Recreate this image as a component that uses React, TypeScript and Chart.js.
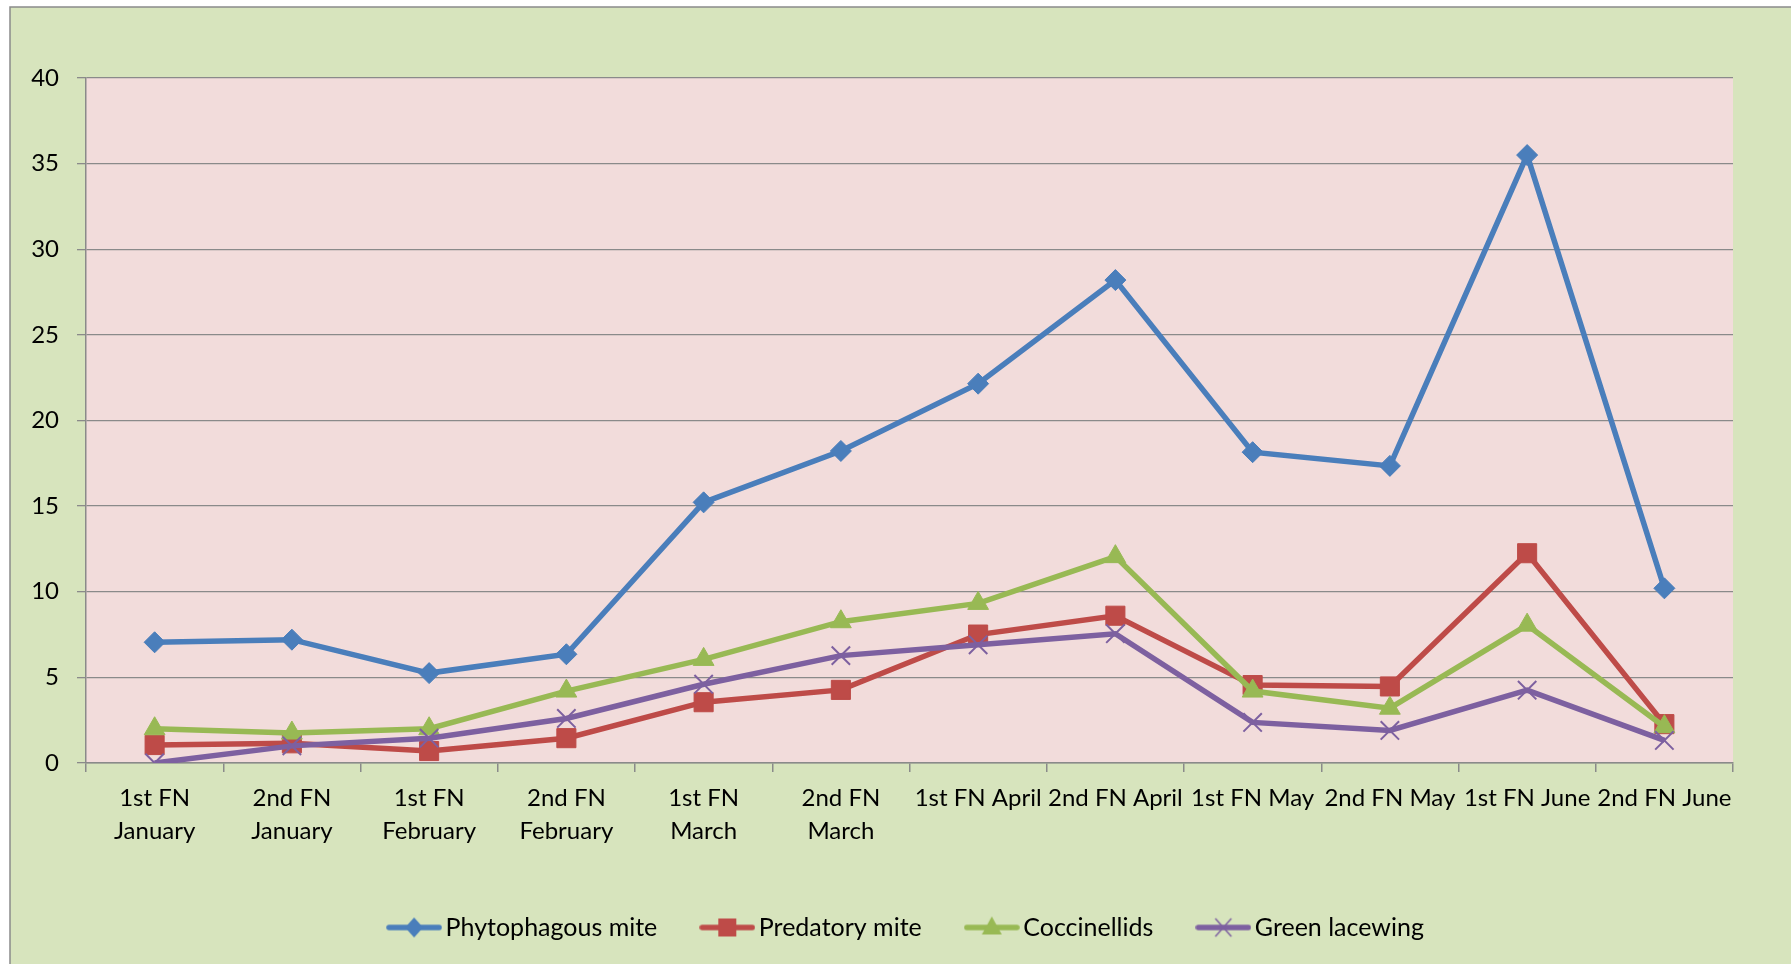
import { useEffect, useRef } from "react";
import { Chart, registerables } from "chart.js";

Chart.register(...registerables);

const categories: (string | string[])[] = [
  ["1st FN", "January"],
  ["2nd FN", "January"],
  ["1st FN", "February"],
  ["2nd FN", "February"],
  ["1st FN", "March"],
  ["2nd FN", "March"],
  "1st FN April",
  "2nd FN April",
  "1st FN May",
  "2nd FN May",
  "1st FN June",
  "2nd FN June",
];

const phytophagousMite = [7.05, 7.2, 5.25, 6.35, 15.22, 18.22, 22.15, 28.2, 18.15, 17.35, 35.5, 10.2];
const predatoryMite = [1.05, 1.15, 0.7, 1.45, 3.55, 4.27, 7.5, 8.6, 4.55, 4.47, 12.25, 2.27];
const coccinellids = [2.0, 1.75, 2.0, 4.2, 6.05, 8.25, 9.32, 12.05, 4.2, 3.2, 8.05, 2.12];
const greenLacewing = [0, 1.0, 1.45, 2.6, 4.6, 6.27, 6.9, 7.55, 2.37, 1.9, 4.25, 1.32];

const seriesNames = ["Phytophagous mite", "Predatory mite", "Coccinellids", "Green lacewing"];
const seriesColors = ["#4A7EBB", "#BE4B48", "#98B954", "#7D60A0"];
const seriesStyles = ["rectRot", "rect", "triangle", "crossRot"];
const seriesRadii = [10.5, 13.5, 12, 13];

const yMin = 0;
const yMax = 40;
const yStep = 5;

const FONT = "Lato, 'Open Sans', sans-serif";

function makeLegendSymbol(style: string, color: string): HTMLCanvasElement {
  const c = document.createElement("canvas");
  c.width = 56;
  c.height = 26;
  const ctx = c.getContext("2d")!;
  const cx = c.width / 2;
  const cy = c.height / 2;
  ctx.strokeStyle = color;
  ctx.fillStyle = color;
  ctx.lineCap = "round";
  ctx.lineWidth = 5.5;
  ctx.beginPath();
  ctx.moveTo(3, cy);
  ctx.lineTo(c.width - 3, cy);
  ctx.stroke();
  ctx.beginPath();
  if (style === "rectRot") {
    ctx.moveTo(cx - 9, cy);
    ctx.lineTo(cx, cy - 10);
    ctx.lineTo(cx + 9, cy);
    ctx.lineTo(cx, cy + 10);
    ctx.closePath();
    ctx.fill();
  } else if (style === "rect") {
    ctx.fillRect(cx - 9, cy - 9, 18, 18);
  } else if (style === "triangle") {
    ctx.moveTo(cx, cy - 11);
    ctx.lineTo(cx + 10, cy + 7);
    ctx.lineTo(cx - 10, cy + 7);
    ctx.closePath();
    ctx.fill();
  } else {
    ctx.lineWidth = 1.5;
    ctx.lineCap = "butt";
    ctx.moveTo(cx - 8, cy - 9);
    ctx.lineTo(cx + 8, cy + 9);
    ctx.moveTo(cx + 8, cy - 9);
    ctx.lineTo(cx - 8, cy + 9);
    ctx.stroke();
  }
  return c;
}

const backgroundPlugin = {
  id: "excelBackground",
  afterLayout(chart: any) {
    // centre the legend under the plot area, as in the original
    if (chart.legend) {
      chart.legend.left = chart.chartArea.left;
    }
  },
  beforeDraw(chart: any) {
    const { ctx, width, height, chartArea } = chart;
    ctx.save();
    ctx.fillStyle = "#ffffff";
    ctx.fillRect(0, 0, width, height);
    ctx.fillStyle = "#D7E4BD";
    ctx.fillRect(10, 7, width - 10, height - 7);
    ctx.strokeStyle = "#8A8A8A";
    ctx.lineWidth = 1.5;
    ctx.strokeRect(10, 7, width + 20, height + 20);
    ctx.fillStyle = "#F2DCDB";
    ctx.fillRect(
      chartArea.left,
      chartArea.top,
      chartArea.right - chartArea.left,
      chartArea.bottom - chartArea.top
    );
    ctx.restore();
  },
};

export default function App() {
  const canvasRef = useRef<HTMLCanvasElement | null>(null);

  useEffect(() => {
    document.body.style.margin = "0";
    document.body.style.overflow = "hidden";
    let chart: Chart | null = null;
    let cancelled = false;

    const build = () => {
      if (cancelled || !canvasRef.current) return;
      const symbols = seriesStyles.map((s, i) => makeLegendSymbol(s, seriesColors[i]));
      const values = [phytophagousMite, predatoryMite, coccinellids, greenLacewing];
      chart = new Chart(canvasRef.current, {
        type: "line",
        data: {
          labels: categories,
          datasets: values.map((d, i) => ({
            label: seriesNames[i],
            data: d,
            borderColor: seriesColors[i],
            backgroundColor: seriesColors[i],
            pointBackgroundColor: seriesColors[i],
            pointBorderColor: seriesColors[i],
            pointStyle: seriesStyles[i] as any,
            pointRadius: seriesRadii[i],
            pointBorderWidth: i === 3 ? 2 : 1,
            borderWidth: 5.5,
            tension: 0,
            fill: false,
            order: 3 - i,
          })),
        },
        options: {
          responsive: false,
          animation: false,
          events: [],
          layout: { padding: { left: 0, top: 78, right: 58, bottom: 14 } },
          plugins: {
            tooltip: { enabled: false },
            legend: {
              position: "bottom",
              labels: {
                usePointStyle: true,
                pointStyleWidth: 38,
                padding: 51,
                color: "#000",
                font: { family: FONT, size: 25 },
                generateLabels: () =>
                  seriesNames.map((name, i) => ({
                    text: name,
                    pointStyle: symbols[i] as any,
                    fillStyle: seriesColors[i],
                    strokeStyle: seriesColors[i],
                    fontColor: "#000",
                    lineWidth: 0,
                    hidden: false,
                    datasetIndex: i,
                  })),
              },
            },
          },
          scales: {
            x: {
              offset: true,
              grid: {
                drawOnChartArea: false,
                offset: true,
                tickLength: 9,
                color: "#8A8A8A",
                lineWidth: 1.5,
              },
              border: { color: "#8A8A8A", width: 1.5 },
              ticks: {
                color: "#000",
                font: { family: FONT, size: 24, lineHeight: 1.375 },
                padding: 10,
                maxRotation: 0,
                minRotation: 0,
                autoSkip: false,
              },
              afterFit: (s: any) => {
                s.height = 101;
              },
            },
            y: {
              min: yMin,
              max: yMax,
              ticks: {
                stepSize: yStep,
                color: "#000",
                font: { family: FONT, size: 24 },
                padding: 18,
              },
              grid: { color: "#8A8A8A", lineWidth: 1.3, tickLength: 9 },
              border: { color: "#8A8A8A", width: 1.5 },
              afterFit: (s: any) => {
                s.width = 86;
              },
            },
          },
        },
        plugins: [backgroundPlugin],
      });
    };

    const fontsAny = (document as any).fonts;
    if (fontsAny && fontsAny.load) {
      fontsAny.load("24px Lato").then(build, build);
    } else {
      build();
    }

    return () => {
      cancelled = true;
      if (chart) chart.destroy();
    };
  }, []);

  return (
    <div style={{ position: "absolute", left: 0, top: 0, width: 1791, height: 964 }}>
      <canvas ref={canvasRef} width={1791} height={964} />
    </div>
  );
}
